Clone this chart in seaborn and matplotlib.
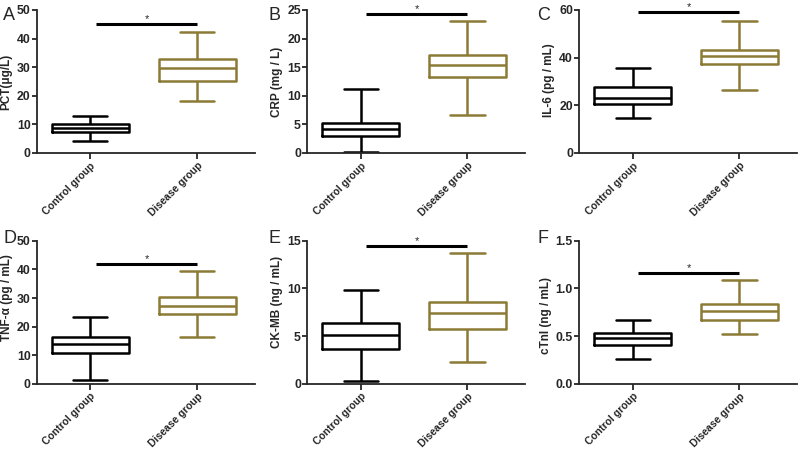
import numpy as np
import pandas as pd
import matplotlib
matplotlib.use("Agg")
import matplotlib.pyplot as plt
import seaborn as sns

# ======================
# DATA (box stats: min, Q1, median, Q3, max)
# ======================
groups = ["Control group", "Disease group"]
panel_letters = ["A", "B", "C", "D", "E", "F"]
ylabels = ["PCT(μg/L)", "CRP (mg / L)", "IL-6 (pg / mL)",
           "TNF-α (pg / mL)", "CK-MB (ng / mL)", "cTnI (ng / mL)"]

pct_control = [4.2, 7.3, 8.7, 10.0, 12.8]
pct_disease = [18.3, 25.0, 29.7, 33.0, 42.3]
crp_control = [0.2, 2.9, 4.1, 5.2, 11.1]
crp_disease = [6.7, 13.2, 15.4, 17.2, 23.1]
il6_control = [14.8, 20.7, 23.0, 27.5, 35.8]
il6_disease = [26.5, 37.2, 40.5, 43.2, 55.3]
tnf_control = [1.3, 10.7, 13.8, 16.2, 23.3]
tnf_disease = [16.3, 24.3, 27.3, 30.3, 39.4]
ckmb_control = [0.3, 3.6, 5.1, 6.4, 9.8]
ckmb_disease = [2.3, 5.8, 7.4, 8.6, 13.7]
ctni_control = [0.26, 0.41, 0.48, 0.53, 0.67]
ctni_disease = [0.52, 0.67, 0.76, 0.84, 1.09]

controls = [pct_control, crp_control, il6_control, tnf_control, ckmb_control, ctni_control]
diseases = [pct_disease, crp_disease, il6_disease, tnf_disease, ckmb_disease, ctni_disease]

y_max = [50, 25, 60, 50, 15, 1.5]
y_step = [10, 5, 20, 10, 5, 0.5]
sig_y = [45.1, 24.3, 59.0, 41.9, 14.5, 1.16]

palette = {"Control group": "black", "Disease group": "#8C7B35"}

# ======================
# PLOT
# ======================
sns.set_style("ticks")
plt.rcParams["font.family"] = ["Liberation Sans", "DejaVu Sans"]

fig = plt.figure(figsize=(8, 4.51), dpi=100)

lefts = [0.046, 0.384, 0.724]
bottoms = [0.661, 0.149]
w, h = 0.2725, 0.317
letter_x = [0.004, 0.335, 0.672]
letter_y = [0.985, 0.49]
# the y labels are not all centred on their axes in the original
label_pos = [0.5, 0.5, 0.51, 0.6, 0.57, 0.48]

for i in range(6):
    row, col = divmod(i, 3)
    ax = fig.add_axes([lefts[col], bottoms[row], w, h])

    # five points per group -> quartiles equal the read values exactly
    df = pd.DataFrame({
        "group": [groups[0]] * 5 + [groups[1]] * 5,
        "value": controls[i] + diseases[i],
    })
    sns.boxplot(data=df, x="group", y="value", hue="group", palette=palette,
                fill=False, whis=(0, 100), width=0.72, linewidth=1.8,
                legend=False, ax=ax, capwidths=0.32)

    ax.set_xlim(-0.5, 1.54)
    ax.set_ylim(0, y_max[i])
    ax.set_yticks(np.arange(0, y_max[i] + y_step[i] / 2, y_step[i]))
    if y_step[i] < 1:
        ax.set_yticklabels([f"{v:.1f}" for v in ax.get_yticks()])
    ax.set_xlabel("")
    ax.set_ylabel(ylabels[i], fontsize=8.5, fontweight="bold", labelpad=3)
    ax.yaxis.label.set_y(label_pos[i])
    ax.tick_params(axis="x", labelsize=7.5, length=4, width=1.3, pad=1.5)
    ax.tick_params(axis="y", labelsize=8.8, length=3.5, width=1.3, pad=1)
    ax.set_xticks([0, 1])
    ax.set_xticklabels(groups, rotation=45, ha="right", rotation_mode="anchor",
                       fontweight="bold")
    for lab in ax.get_yticklabels():
        lab.set_fontweight("bold")
    for s in ["left", "bottom"]:
        ax.spines[s].set_linewidth(1.3)
    sns.despine(ax=ax)

    # significance bar
    ax.plot([0.05, 1.0], [sig_y[i], sig_y[i]], color="black", lw=2.2,
            clip_on=False, solid_capstyle="butt")
    ax.text(0.53, sig_y[i], "*", ha="center", va="bottom", fontsize=8)

    fig.text(letter_x[col], letter_y[row], panel_letters[i],
             fontsize=13, va="top", ha="left")

fig.savefig("out.png", dpi=100)
